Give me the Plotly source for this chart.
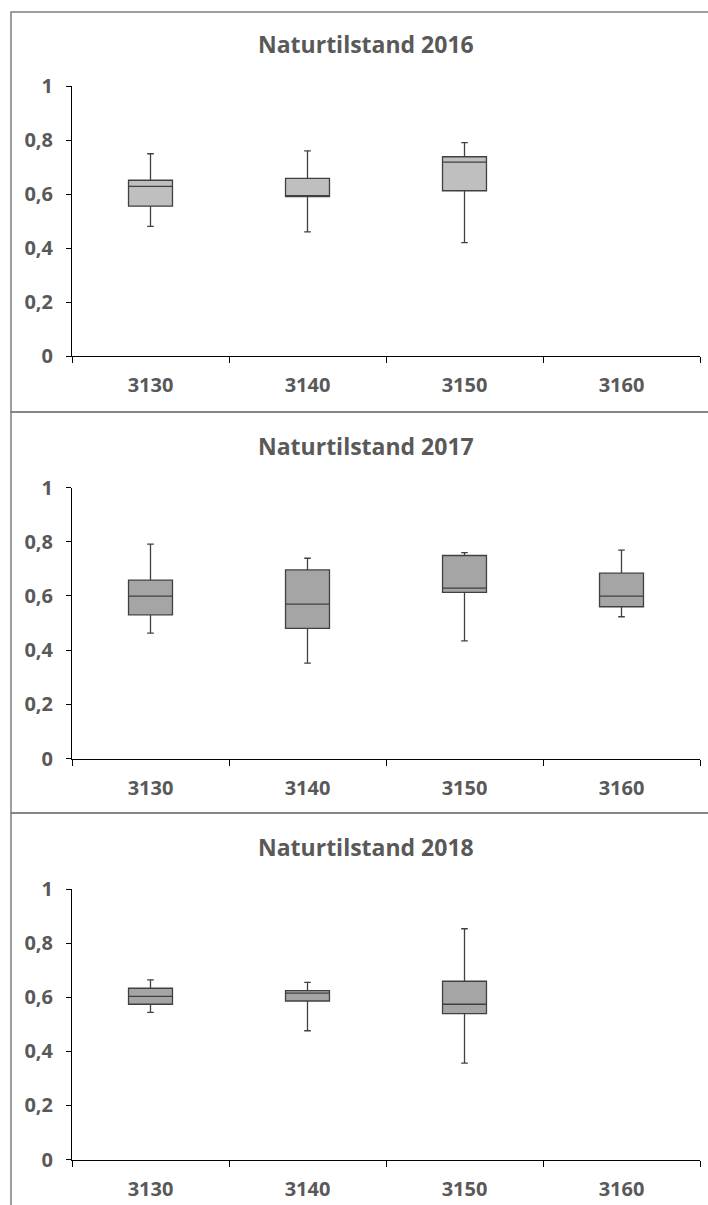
import plotly.graph_objects as go

# Habitat types on the x axis
categories = ["3130", "3140", "3150", "3160"]

# Box statistics per year (lower whisker, Q1, median, Q3, upper whisker)
cats_2016 = ["3130", "3140", "3150"]
low_2016 = [0.48, 0.46, 0.42]
q1_2016 = [0.555, 0.59, 0.612]
med_2016 = [0.628, 0.591, 0.718]
q3_2016 = [0.651, 0.658, 0.738]
high_2016 = [0.749, 0.76, 0.79]

cats_2017 = ["3130", "3140", "3150", "3160"]
low_2017 = [0.463, 0.352, 0.434, 0.523]
q1_2017 = [0.53, 0.48, 0.613, 0.56]
med_2017 = [0.599, 0.57, 0.629, 0.599]
q3_2017 = [0.658, 0.696, 0.749, 0.684]
high_2017 = [0.791, 0.739, 0.76, 0.769]

cats_2018 = ["3130", "3140", "3150"]
low_2018 = [0.544, 0.476, 0.356]
q1_2018 = [0.574, 0.586, 0.539]
med_2018 = [0.603, 0.615, 0.574]
q3_2018 = [0.633, 0.624, 0.659]
high_2018 = [0.664, 0.655, 0.853]

titles = ["Naturtilstand 2016", "Naturtilstand 2017", "Naturtilstand 2018"]
y_tickvals = [0, 0.2, 0.4, 0.6, 0.8, 1]
y_ticktext = ["0", "0,2", "0,4", "0,6", "0,8", "1"]

W, H = 708, 1205
TEXT = "#595959"
FONT = "Open Sans"


def py(pix):
    return 1 - pix / H


def px(pix):
    return pix / W


panels = [
    dict(cats=cats_2016, low=low_2016, q1=q1_2016, med=med_2016, q3=q3_2016,
         high=high_2016, fill="#BFBFBF", top=86, bottom=356, frame=(12, 412), title_y=44),
    dict(cats=cats_2017, low=low_2017, q1=q1_2017, med=med_2017, q3=q3_2017,
         high=high_2017, fill="#A5A5A5", top=487.5, bottom=758.5, frame=(412, 813), title_y=446),
    dict(cats=cats_2018, low=low_2018, q1=q1_2018, med=med_2018, q3=q3_2018,
         high=high_2018, fill="#A5A5A5", top=889, bottom=1159.5, frame=(813, 1220), title_y=847),
]

fig = go.Figure()
layout = dict(
    template="none",
    width=W, height=H, autosize=False,
    margin=dict(l=0, r=0, t=0, b=0, pad=0),
    paper_bgcolor="white", plot_bgcolor="white",
    showlegend=False,
    boxgap=0.6,
    font=dict(family=FONT, color=TEXT),
)
shapes = []
annotations = []

for i, p in enumerate(panels):
    n = "" if i == 0 else str(i + 1)
    fig.add_trace(go.Box(
        x=p["cats"], q1=p["q1"], median=p["med"], q3=p["q3"],
        lowerfence=p["low"], upperfence=p["high"],
        fillcolor=p["fill"],
        line=dict(color="#404040", width=1.3),
        whiskerwidth=0.15,
        boxpoints=False,
        xaxis="x" + n, yaxis="y" + n,
        hoverinfo="skip",
    ))
    layout["xaxis" + n] = dict(
        domain=[px(72), px(700)],
        anchor="y" + n,
        automargin=False,
        type="category",
        categoryorder="array", categoryarray=categories,
        tickmode="array", tickvals=categories, ticktext=categories,
        range=[-0.5, len(categories) - 0.5],
        showline=True, linecolor="#000000", linewidth=1,
        ticks="outside", tickson="boundaries", ticklen=6, tickcolor="#000000",
        ticklabelstandoff=11,
        showgrid=False, zeroline=False,
        tickfont=dict(family=FONT, size=20, color=TEXT, weight="bold"),
    )
    layout["yaxis" + n] = dict(
        domain=[py(p["bottom"]), py(p["top"])],
        anchor="x" + n,
        automargin=False,
        range=[0, 1],
        tickmode="array", tickvals=y_tickvals, ticktext=y_ticktext,
        showline=True, linecolor="#000000", linewidth=1,
        ticks="outside", ticklen=5, tickcolor="#000000",
        ticklabelstandoff=9,
        showgrid=False, zeroline=False,
        tickfont=dict(family=FONT, size=20, color=TEXT, weight="bold"),
    )
    annotations.append(dict(
        text=titles[i], xref="paper", yref="paper",
        x=px(366), y=py(p["title_y"]), xanchor="center", yanchor="middle",
        showarrow=False,
        font=dict(family=FONT, size=23, color=TEXT, weight="bold"),
    ))
    f0, f1 = p["frame"]
    shapes.append(dict(
        type="rect", xref="paper", yref="paper",
        x0=px(11), x1=px(720), y0=py(f1), y1=py(f0),
        line=dict(color="#7F7F7F", width=1.5), fillcolor="rgba(0,0,0,0)",
        layer="below",
    ))

layout["shapes"] = shapes
layout["annotations"] = annotations
fig.update_layout(**layout)

fig.write_html("out.html")
